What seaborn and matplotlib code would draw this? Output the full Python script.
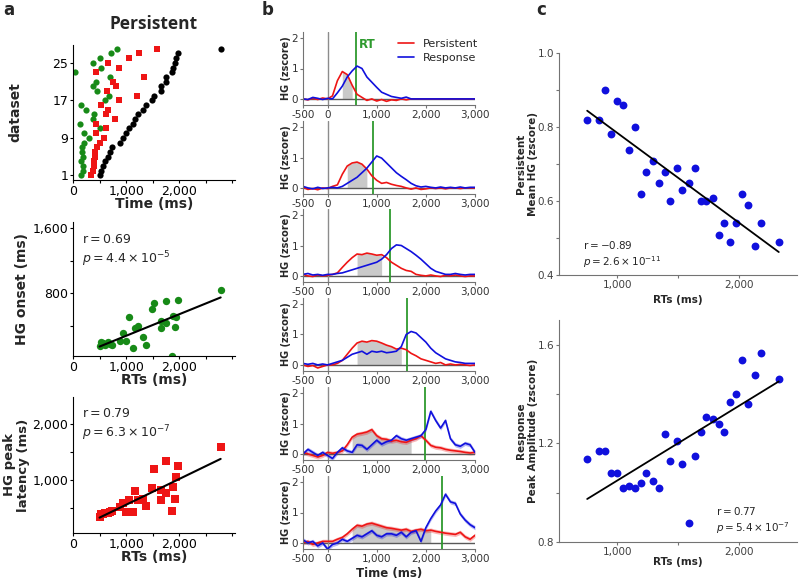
import numpy as np
import pandas as pd
import matplotlib.pyplot as plt
import seaborn as sns
from matplotlib.ticker import FuncFormatter, MultipleLocator

sns.set_style('ticks')
plt.rcParams['font.family'] = ['DejaVu Sans']
plt.rcParams['mathtext.fontset'] = 'dejavusans'
plt.rcParams['axes.linewidth'] = 0.8

# ---------------- panel a: one value per dataset (datasets sorted by RT)
dataset = list(range(1, 29))
rt_ms = [500, 530, 560, 600, 650, 700, 740, 880, 950, 1000,
         1045, 1130, 1170, 1215, 1310, 1375, 1480, 1525, 1650, 1665,
         1745, 1750, 1855, 1885, 1920, 1940, 1970, 2780]
onset_ms = [144, 193, 180, 160, 193, 170, 164, 205, 310, 205,
            500, 123, 369, 390, 254, 156, 603, 677, 459, 369,
            431, 697, 29, 521, 377, 500, 710, 837]
peak_ms = [340, 380, 390, 400, 410, 420, 450, 510, 590, 430,
           630, 430, 800, 630, 650, 530, 860, 1200, 640, 810,
           760, 1330, 440, 870, 650, 1050, 1240, 1580]

# ---------------- panel b: HG time courses (zscore), one row per example
time_ms = list(range(-500, 3001, 100))
persist_1 = [0.0, -0.03, 0.02, -0.02, 0.03, 0.0, 0.1, 0.6, 0.9, 0.8, 0.45, 0.15,
             0.05, -0.05, 0.0, -0.07, -0.02, -0.08, -0.03, -0.05, 0.0, -0.03, 0.0, 0.0,
             0.0, 0.0, 0.0, 0.0, 0.0, 0.0, 0.0, 0.0, 0.0, 0.0, 0.0, 0.0]
response_1 = [0.0, -0.02, 0.05, 0.02, -0.02, 0.02, 0.0, 0.2, 0.42, 0.72, 0.92, 1.08,
              1.0, 0.72, 0.55, 0.38, 0.22, 0.15, 0.08, 0.05, 0.02, 0.06, 0.0, 0.0,
              0.0, 0.0, 0.0, 0.0, 0.0, 0.0, 0.0, 0.0, 0.0, 0.0, 0.0, 0.0]
persist_2 = [0.02, -0.05, -0.02, -0.06, 0.0, -0.02, 0.05, 0.1, 0.45, 0.72, 0.82, 0.85,
             0.78, 0.62, 0.4, 0.25, 0.15, 0.18, 0.12, 0.08, 0.05, 0.0, -0.04, 0.0,
             -0.05, -0.03, 0.0, -0.02, 0.0, -0.03, 0.0, 0.0, -0.02, 0.0, 0.0, 0.0]
response_2 = [0.05, 0.0, -0.03, 0.02, -0.02, 0.0, 0.02, 0.0, 0.05, 0.15, 0.25, 0.35,
              0.5, 0.65, 0.85, 1.05, 0.98, 0.82, 0.66, 0.5, 0.38, 0.27, 0.15, 0.07,
              0.03, 0.05, 0.02, 0.0, 0.03, 0.0, 0.02, 0.0, 0.03, 0.0, 0.02, 0.02]
persist_3 = [0.05, 0.0, -0.02, 0.03, 0.0, 0.02, 0.05, 0.1, 0.28, 0.45, 0.6, 0.72,
             0.7, 0.75, 0.72, 0.68, 0.7, 0.6, 0.45, 0.35, 0.25, 0.18, 0.15, 0.05,
             0.02, 0.0, 0.03, 0.0, -0.02, 0.02, 0.0, 0.03, 0.0, -0.02, 0.0, 0.0]
response_3 = [0.05, 0.08, 0.03, 0.05, 0.02, 0.05, 0.05, 0.08, 0.1, 0.15, 0.2, 0.25,
              0.3, 0.35, 0.4, 0.45, 0.55, 0.7, 0.9, 1.02, 1.0, 0.9, 0.8, 0.68,
              0.55, 0.4, 0.25, 0.15, 0.1, 0.05, 0.05, 0.08, 0.05, 0.03, 0.05, 0.05]
persist_4 = [0.0, -0.05, -0.02, -0.1, -0.05, 0.0, 0.0, 0.05, 0.15, 0.35, 0.55, 0.72,
             0.78, 0.75, 0.8, 0.78, 0.72, 0.65, 0.6, 0.52, 0.55, 0.5, 0.38, 0.3,
             0.2, 0.15, 0.1, 0.05, 0.08, 0.0, 0.03, 0.0, 0.02, 0.0, -0.02, 0.0]
response_4 = [0.05, 0.02, 0.05, 0.0, 0.03, 0.0, 0.05, 0.1, 0.15, 0.25, 0.35, 0.4,
              0.45, 0.35, 0.45, 0.42, 0.45, 0.4, 0.42, 0.45, 0.6, 1.0, 1.1, 1.05,
              0.9, 0.75, 0.55, 0.4, 0.3, 0.2, 0.15, 0.1, 0.08, 0.05, 0.05, 0.05]
persist_5 = [0.05, 0.0, -0.05, -0.1, -0.05, 0.05, 0.02, 0.05, 0.1, 0.3, 0.55, 0.65,
             0.68, 0.72, 0.8, 0.6, 0.5, 0.48, 0.42, 0.45, 0.4, 0.38, 0.45, 0.5,
             0.6, 0.45, 0.28, 0.22, 0.2, 0.15, 0.12, 0.1, 0.08, 0.05, 0.03, 0.05]
response_5 = [0.0, 0.15, 0.05, -0.05, 0.05, -0.05, -0.15, 0.05, 0.2, 0.1, 0.05, 0.3,
              0.28, 0.15, 0.3, 0.45, 0.32, 0.4, 0.45, 0.6, 0.5, 0.45, 0.5, 0.55,
              0.6, 0.8, 1.4, 1.1, 0.85, 1.1, 0.5, 0.3, 0.25, 0.35, 0.3, 0.05]
persist_6 = [0.0, 0.05, -0.05, 0.0, 0.05, 0.05, 0.05, 0.12, 0.18, 0.3, 0.45, 0.58,
             0.55, 0.62, 0.65, 0.6, 0.55, 0.5, 0.48, 0.45, 0.42, 0.45, 0.38, 0.42,
             0.45, 0.4, 0.42, 0.38, 0.35, 0.32, 0.3, 0.28, 0.35, 0.2, 0.12, 0.25]
response_6 = [0.1, 0.0, 0.05, -0.1, 0.0, -0.2, -0.05, 0.0, 0.12, 0.05, 0.15, 0.25,
              0.2, 0.3, 0.4, 0.25, 0.2, 0.3, 0.3, 0.25, 0.35, 0.2, 0.35, 0.4,
              0.05, 0.5, 0.8, 1.05, 1.25, 1.6, 1.35, 1.3, 0.95, 0.75, 0.6, 0.5]
example_rt = [580, 924, 1268, 1625, 1976, 2328]
shade_window = [(300, 500), (400, 800), (600, 1100), (600, 1500), (500, 1700), (500, 2100)]
sem_band = [0.0, 0.0, 0.0, 0.0, 0.07, 0.07]

# ---------------- panel c: one value per electrode
rt_c = [752, 850, 896, 948, 995, 1046, 1095, 1147, 1196, 1240,
        1294, 1343, 1390, 1436, 1488, 1537, 1591, 1638, 1687, 1733,
        1785, 1834, 1880, 1932, 1981, 2027, 2079, 2131, 2180, 2330]
mean_hg_c = [0.818, 0.818, 0.899, 0.780, 0.870, 0.859, 0.739, 0.799, 0.620, 0.679,
             0.709, 0.648, 0.679, 0.599, 0.690, 0.629, 0.649, 0.690, 0.599, 0.599,
             0.609, 0.509, 0.540, 0.489, 0.540, 0.620, 0.590, 0.479, 0.540, 0.489]
peak_amp_c = [1.138, 1.168, 1.168, 1.079, 1.079, 1.018, 1.029, 1.018, 1.040, 1.079,
              1.049, 1.018, 1.238, 1.127, 1.208, 1.118, 0.879, 1.149, 1.247, 1.308,
              1.298, 1.278, 1.247, 1.368, 1.398, 1.538, 1.358, 1.479, 1.568, 1.459]

green = '#178a17'
red = '#ee1515'
blue = '#1010dd'
rt_green = '#2e9a2e'

W, H = 800, 580
fig = plt.figure(figsize=(W / 100, H / 100), dpi=100)


def box(l, t, r, b):
    return [l / W, 1 - b / H, (r - l) / W, (b - t) / H]


comma = FuncFormatter(lambda v, pos: f'{v:,.0f}')


def style(ax, color='black', labelsize=9, labelcolor='black'):
    sns.despine(ax=ax)
    for s in ('left', 'bottom'):
        ax.spines[s].set_color(color)
    ax.tick_params(which='both', direction='out', color=color, labelsize=labelsize,
                   labelcolor=labelcolor, width=0.8, pad=1)
    ax.tick_params(which='major', length=2.5)
    ax.tick_params(which='minor', length=2)


def stats_text(ax, x, y, r_txt, p_txt, size):
    ax.text(x, y, r'$\mathrm{r}=' + r_txt + '$\n$p=' + p_txt + '$', transform=ax.transAxes,
            ha='left', va='top', fontsize=size, linespacing=1.25)


# ---- a, top: onsets / peaks / RT per dataset
ax = fig.add_axes(box(73, 45, 235, 180))
sns.scatterplot(x=onset_ms, y=dataset, color=green, s=20, linewidth=0, ax=ax)
sns.scatterplot(x=peak_ms, y=dataset, color=red, marker='s', s=20, linewidth=0, ax=ax)
sns.scatterplot(x=rt_ms, y=dataset, color='black', s=20, linewidth=0, ax=ax)
ax.set_xlim(0, 3050)
ax.set_ylim(0, 28.8)
ax.set_xticks([0, 1000, 2000])
ax.xaxis.set_minor_locator(MultipleLocator(500))
ax.xaxis.set_major_formatter(comma)
ax.set_yticks([1, 9, 17, 25])
style(ax)
ax.set_xlabel('Time (ms)', fontsize=10, fontweight='bold')
ax.set_ylabel('dataset', fontsize=10, fontweight='bold')
ax.xaxis.set_label_coords(0.5, -0.128)
ax.yaxis.set_label_coords(-0.315, 0.5)
fig.text(154 / W, 1 - 24 / H, 'Persistent', ha='center', va='center',
         fontsize=12.5, fontweight='bold', family='Open Sans')

# ---- a, middle: onset vs RT
ax = fig.add_axes(box(73, 222, 235, 356))
sns.regplot(x=rt_ms, y=onset_ms, ci=None, color=green, ax=ax,
            scatter_kws=dict(s=28, alpha=1, linewidths=0),
            line_kws=dict(color='black', lw=1.5))
ax.set_xlim(0, 3050)
ax.set_ylim(25, 1675)
ax.set_xticks([0, 1000, 2000])
ax.xaxis.set_minor_locator(MultipleLocator(500))
ax.set_yticks([800, 1600])
ax.yaxis.set_minor_locator(MultipleLocator(400))
ax.xaxis.set_major_formatter(comma)
ax.yaxis.set_major_formatter(comma)
style(ax)
ax.set_xlabel('RTs (ms)', fontsize=10, fontweight='bold')
ax.set_ylabel('HG onset (ms)', fontsize=10, fontweight='bold')
ax.xaxis.set_label_coords(0.5, -0.128)
ax.yaxis.set_label_coords(-0.27, 0.5)
stats_text(ax, 0.055, 0.92, '0.69', r'4.4\times10^{-5}', 9)

# ---- a, bottom: peak latency vs RT
ax = fig.add_axes(box(73, 397, 235, 533))
sns.regplot(x=rt_ms, y=peak_ms, ci=None, color=red, marker='s', ax=ax,
            scatter_kws=dict(s=28, alpha=1, linewidths=0),
            line_kws=dict(color='black', lw=1.5))
ax.set_xlim(0, 3050)
ax.set_ylim(50, 2475)
ax.set_xticks([0, 1000, 2000])
ax.xaxis.set_minor_locator(MultipleLocator(500))
ax.set_yticks([1000, 2000])
ax.yaxis.set_minor_locator(MultipleLocator(500))
ax.xaxis.set_major_formatter(comma)
ax.yaxis.set_major_formatter(comma)
style(ax)
ax.set_xlabel('RTs (ms)', fontsize=10, fontweight='bold')
ax.set_ylabel('HG peak\nlatency (ms)', fontsize=9.5, fontweight='bold', linespacing=1.1)
ax.xaxis.set_label_coords(0.5, -0.125)
ax.yaxis.set_label_coords(-0.265, 0.5)
stats_text(ax, 0.055, 0.93, '0.79', r'6.3\times10^{-7}', 9)

# ---- b: example time courses
persist = [persist_1, persist_2, persist_3, persist_4, persist_5, persist_6]
response = [response_1, response_2, response_3, response_4, response_5, response_6]
zero_row = [99, 188, 276, 365, 454, 543]
t = np.array(time_ms)
for k in range(6):
    y0 = zero_row[k]
    ax = fig.add_axes(box(303, y0 - 67, 475, y0 + 6))
    p = np.array(persist[k])
    r = np.array(response[k])
    lo, hi = shade_window[k]
    m = (t >= lo) & (t <= hi)
    ax.fill_between(t[m], 0, p[m], color='#c9c9c9', lw=0)
    ax.axhline(0, color='0.35', lw=1)
    ax.axvline(0, color='0.55', lw=1)
    ax.axvline(example_rt[k], color=rt_green, lw=1.3)
    if sem_band[k] > 0:
        ax.fill_between(t, p - sem_band[k], p + sem_band[k], color=red, alpha=0.3, lw=0)
        ax.fill_between(t, r - sem_band[k], r + sem_band[k], color=blue, alpha=0.3, lw=0)
    df = pd.DataFrame({'time': time_ms, 'Persistent': persist[k], 'Response': response[k]})
    df = df.melt(id_vars='time', var_name='trace', value_name='HG')
    sns.lineplot(data=df, x='time', y='HG', hue='trace',
                 palette={'Persistent': red, 'Response': blue},
                 lw=1.2, legend=(k == 0), ax=ax)
    ax.set_xlim(-500, 3000)
    ax.set_ylim(-0.2, 2.2)
    ax.set_xticks([-500, 0, 1000, 2000, 3000])
    ax.set_yticks([0, 1, 2])
    ax.xaxis.set_major_formatter(comma)
    style(ax, color='0.45', labelsize=7.5, labelcolor='0.2')
    ax.set_ylabel('HG (zscore)', fontsize=7, fontweight='bold')
    ax.yaxis.set_label_coords(-0.07, 0.5)
    if k == 0:
        ax.legend(loc='upper left', bbox_to_anchor=(0.55, 0.9), frameon=False,
                  fontsize=8, handlelength=1.5, handletextpad=0.8, borderaxespad=0,
                  borderpad=0, labelspacing=0.35)
        ax.text(example_rt[0] + 55, 1.8, 'RT', color=rt_green, fontsize=8.5,
                fontweight='bold', va='center')
    if k == 5:
        ax.set_xlabel('Time (ms)', fontsize=8.5, fontweight='bold')
        ax.xaxis.set_label_coords(0.5, -0.24)
    else:
        ax.set_xlabel('')

# ---- c: persistent mean HG vs RT, response peak vs RT
ax = fig.add_axes(box(559, 53, 797, 275))
sns.regplot(x=rt_c, y=mean_hg_c, ci=None, color=blue, ax=ax,
            scatter_kws=dict(s=32, alpha=1, linewidths=0),
            line_kws=dict(color='black', lw=1.3))
ax.set_xlim(520, 2480)
ax.set_ylim(0.4, 1.0)
ax.set_xticks([1000, 2000])
ax.xaxis.set_minor_locator(MultipleLocator(500))
ax.set_yticks([0.4, 0.6, 0.8, 1.0])
ax.yaxis.set_minor_locator(MultipleLocator(0.1))
ax.xaxis.set_major_formatter(comma)
style(ax, color='0.45', labelsize=7.5, labelcolor='0.25')
ax.set_xlabel('RTs (ms)', fontsize=7.5, fontweight='bold')
ax.set_ylabel('Persistent\nMean HG (zscore)', fontsize=7.5, fontweight='bold')
ax.xaxis.set_label_coords(0.5, -0.09)
ax.yaxis.set_label_coords(-0.088, 0.5)
stats_text(ax, 0.1, 0.16, '-0.89', r'2.6\times10^{-11}', 7.5)

ax = fig.add_axes(box(559, 320, 797, 542))
sns.regplot(x=rt_c, y=peak_amp_c, ci=None, color=blue, ax=ax,
            scatter_kws=dict(s=32, alpha=1, linewidths=0),
            line_kws=dict(color='black', lw=1.3))
ax.set_xlim(520, 2480)
ax.set_ylim(0.8, 1.7)
ax.set_xticks([1000, 2000])
ax.xaxis.set_minor_locator(MultipleLocator(500))
ax.set_yticks([0.8, 1.2, 1.6])
ax.yaxis.set_minor_locator(MultipleLocator(0.2))
ax.xaxis.set_major_formatter(comma)
style(ax, color='0.45', labelsize=7.5, labelcolor='0.25')
ax.set_xlabel('RTs (ms)', fontsize=7.5, fontweight='bold')
ax.set_ylabel('Response\nPeak Amplitude (zscore)', fontsize=7.5, fontweight='bold')
ax.xaxis.set_label_coords(0.5, -0.068)
ax.yaxis.set_label_coords(-0.088, 0.5)
stats_text(ax, 0.66, 0.165, '0.77', r'5.4\times10^{-7}', 7.5)

# panel letters
for x, letter in [(9, 'a'), (268, 'b'), (541, 'c')]:
    fig.text(x / W, 1 - 10 / H, letter, ha='center', va='center',
             fontsize=12, fontweight='bold')

fig.savefig('out.png', dpi=100)
